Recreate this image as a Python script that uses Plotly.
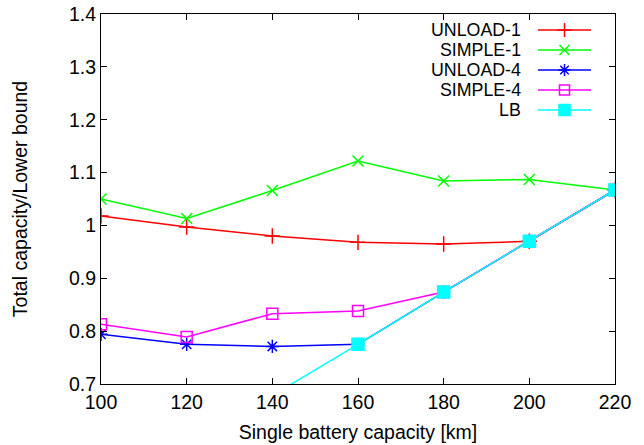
import plotly.graph_objects as go

capacity = [100, 120, 140, 160, 180, 200, 220]
unload_1 = [1.018, 0.997, 0.980, 0.968, 0.965, 0.970, 1.067]
simple_1 = [1.050, 1.013, 1.066, 1.122, 1.084, 1.087, 1.067]
unload_4 = [0.794, 0.775, 0.771, 0.775, 0.874, 0.970, 1.067]
simple_4 = [0.813, 0.789, 0.833, 0.838, 0.874, 0.970, 1.067]
lb = [0.485, 0.582, 0.679, 0.775, 0.874, 0.970, 1.067]

series_names = ["UNLOAD-1", "SIMPLE-1", "UNLOAD-4", "SIMPLE-4", "LB"]
series_values = [unload_1, simple_1, unload_4, simple_4, lb]

x_ticks = [100, 120, 140, 160, 180, 200, 220]
y_ticks = [0.7, 0.8, 0.9, 1.0, 1.1, 1.2, 1.3, 1.4]
y_tick_labels = ["0.7", "0.8", "0.9", "1", "1.1", "1.2", "1.3", "1.4"]

styles = [
    dict(color="#ff0000", symbol="cross-thin", size=11),
    dict(color="#00ff00", symbol="x-thin", size=11),
    dict(color="#0000ff", symbol="asterisk", size=11),
    dict(color="#ff00ff", symbol="square-open", size=11),
    dict(color="#00ffff", symbol="square", size=12),
]

FONT = "Liberation Sans, Arial, Helvetica, sans-serif"
FS = 19.5
LEG_FS = 17.8
W, H = 644, 445
ML, MR, MT, MB = 101, 29, 14, 61

fig = go.Figure()
for name, vals, st in zip(series_names, series_values, styles):
    mk = dict(symbol=st["symbol"], size=st["size"], color=st["color"],
              line=dict(color=st["color"], width=1.5))
    fig.add_trace(go.Scatter(
        x=capacity, y=vals, name=name, mode="lines+markers",
        line=dict(color=st["color"], width=1.5), marker=mk,
        showlegend=False, xaxis="x", yaxis="y",
    ))

# custom gnuplot-style legend (text left, sample right), in pixel coords
LEG_TEXT_X = 522
LEG_X0, LEG_X1 = 538, 591
LEG_Y0, LEG_DY = 30, 20
annotations = []
for i, (name, st) in enumerate(zip(series_names, styles)):
    yy = LEG_Y0 + i * LEG_DY
    mk = dict(symbol=st["symbol"], size=st["size"] - 1, color=st["color"],
              line=dict(color=st["color"], width=1.5))
    fig.add_trace(go.Scatter(
        x=[LEG_X0, LEG_X1], y=[yy, yy], mode="lines",
        line=dict(color=st["color"], width=1.5),
        showlegend=False, hoverinfo="skip", xaxis="x2", yaxis="y2",
    ))
    fig.add_trace(go.Scatter(
        x=[(LEG_X0 + LEG_X1) / 2], y=[yy], mode="markers", marker=mk,
        showlegend=False, hoverinfo="skip", xaxis="x2", yaxis="y2",
    ))
    annotations.append(dict(
        x=LEG_TEXT_X, y=yy, xref="x2", yref="y2", text=name,
        showarrow=False, xanchor="right", yanchor="middle",
        borderpad=0,
        font=dict(family=FONT, size=LEG_FS, color="black"),
    ))

axis_common = dict(
    showline=True, linecolor="black", linewidth=1, mirror="ticks",
    ticks="inside", ticklen=6, tickcolor="black", tickwidth=1,
    showgrid=False, zeroline=False, automargin=False,
    tickfont=dict(family=FONT, size=FS, color="black"),
)

fig.update_layout(
    width=W, height=H,
    margin=dict(l=ML, r=MR, t=MT, b=MB, pad=0, autoexpand=False),
    paper_bgcolor="white", plot_bgcolor="white",
    font=dict(family=FONT, size=FS, color="black"),
    xaxis=dict(range=[100, 220], tickvals=x_ticks, ticklabelstandoff=1,
               title=dict(text="Single battery capacity [km]",
                          font=dict(family=FONT, size=FS, color="black"),
                          standoff=12),
               **axis_common),
    yaxis=dict(range=[0.7, 1.4], tickvals=y_ticks, ticktext=y_tick_labels,
               title=dict(text="Total capacity/Lower bound",
                          font=dict(family=FONT, size=FS, color="black"),
                          standoff=36),
               **axis_common),
    xaxis2=dict(overlaying="x", range=[ML, W - MR], visible=False, fixedrange=True),
    yaxis2=dict(overlaying="y", range=[H - MB, MT], visible=False, fixedrange=True),
    annotations=annotations,
    showlegend=False,
)

fig.write_html("out.html")
